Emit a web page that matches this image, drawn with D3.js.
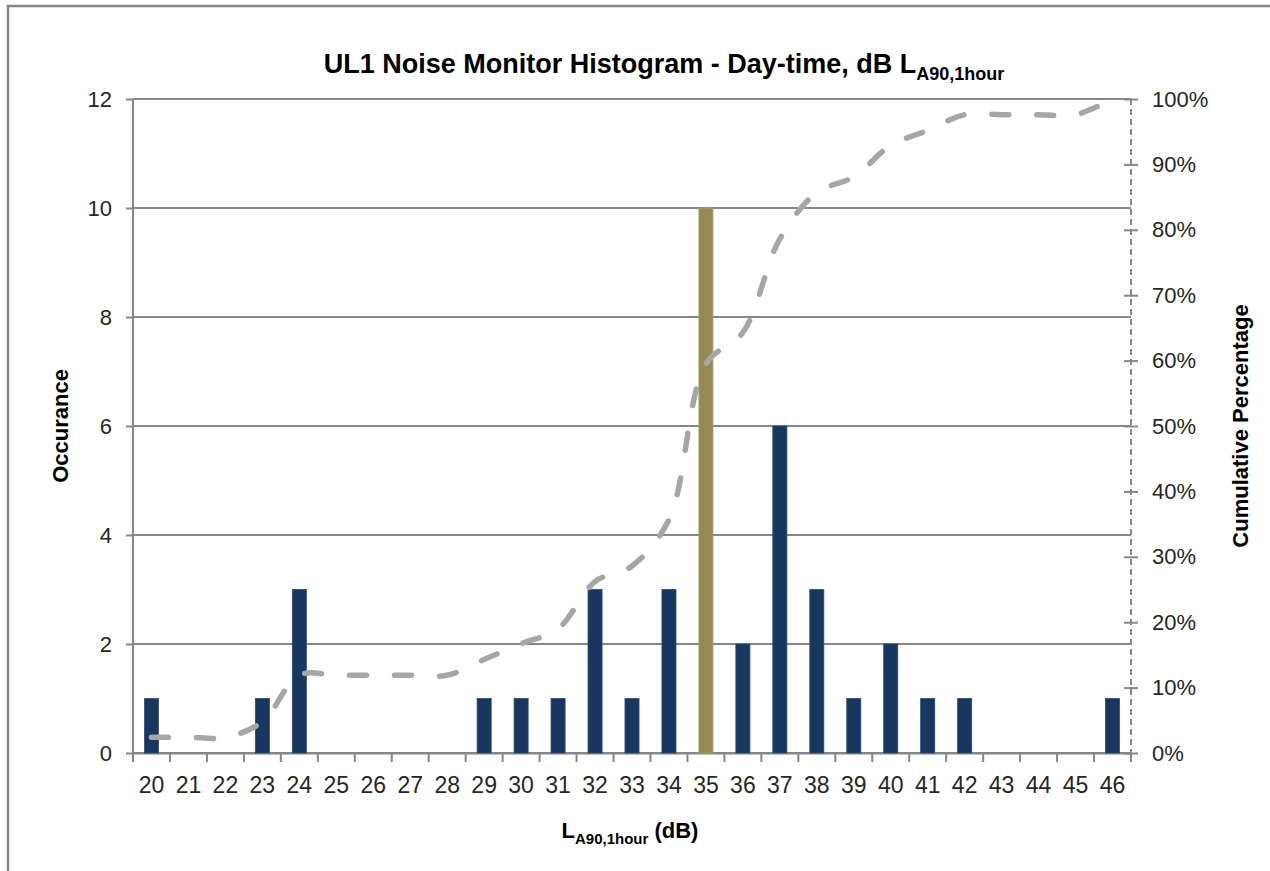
<!DOCTYPE html>
<html>
<head>
<meta charset="utf-8">
<script src="https://cdn.jsdelivr.net/npm/d3@7"></script>
<style>
  html, body { margin: 0; padding: 0; background: #fff; }
  svg { display: block; }
</style>
</head>
<body>
<script>
// ---- Data ----
const categories = ["20","21","22","23","24","25","26","27","28","29","30","31","32","33","34","35","36","37","38","39","40","41","42","43","44","45","46"];
const occurrences = [1,0,0,1,3,0,0,0,0,1,1,1,3,1,3,10,2,6,3,1,2,1,1,0,0,0,1];
const cumulativePct = [2.4,2.4,2.4,4.8,11.9,11.9,11.9,11.9,11.9,14.3,16.7,19.0,26.2,28.6,35.7,59.5,64.3,78.6,85.7,88.1,92.9,95.2,97.6,97.6,97.6,97.6,100];
const highlightCategory = "35";
const leftTicks = [0,2,4,6,8,10,12];
const rightTicks = [0,10,20,30,40,50,60,70,80,90,100];

const W = 1270, H = 871;
const plot = { left: 133, right: 1131, top: 99, bottom: 753 };
const axisColor = "#868686";
const narrow = "'Liberation Sans Narrow', 'Arial Narrow', 'Liberation Sans', sans-serif";
const sans = "'Liberation Sans', Arial, sans-serif";

const svg = d3.select("body").append("svg").attr("width", W).attr("height", H);

// outer chart frame
svg.append("rect").attr("x", 8).attr("y", 6).attr("width", W + 20).attr("height", H + 20)
  .attr("fill", "#fff").attr("stroke", axisColor).attr("stroke-width", 2.5);

const x = d3.scaleBand().domain(categories).range([plot.left, plot.right]).padding(0);
const y = d3.scaleLinear().domain([0, 12]).range([plot.bottom, plot.top]);
const y2 = d3.scaleLinear().domain([0, 100]).range([plot.bottom, plot.top]);

// gridlines + left axis
const gLeft = svg.append("g").attr("transform", `translate(${plot.left},0)`)
  .call(d3.axisLeft(y).tickValues(leftTicks).tickSize(7).tickPadding(14).tickFormat(d3.format("d")));
gLeft.select(".domain").remove();
gLeft.selectAll(".tick line").attr("stroke", axisColor).attr("stroke-width", 2);
gLeft.selectAll(".tick text").attr("font-family", sans).attr("font-size", 22).attr("fill", "#262626");

svg.append("g").selectAll("line.grid").data(leftTicks).join("line")
  .attr("x1", plot.left).attr("x2", plot.right)
  .attr("y1", d => y(d)).attr("y2", d => y(d))
  .attr("stroke", axisColor).attr("stroke-width", 2);

svg.append("line").attr("x1", plot.left).attr("x2", plot.left)
  .attr("y1", plot.top).attr("y2", plot.bottom + 9)
  .attr("stroke", axisColor).attr("stroke-width", 2);

// right axis (dashed)
svg.append("line").attr("x1", plot.right).attr("x2", plot.right)
  .attr("y1", plot.top).attr("y2", plot.bottom)
  .attr("stroke", axisColor).attr("stroke-width", 2).attr("stroke-dasharray", "6,4");
const gRight = svg.append("g").attr("transform", `translate(${plot.right},0)`)
  .call(d3.axisRight(y2).tickValues(rightTicks).tickSize(7).tickPadding(14).tickFormat(d => d + "%"));
gRight.select(".domain").remove();
gRight.selectAll(".tick line").attr("x1", -7).attr("stroke", axisColor).attr("stroke-width", 2);
gRight.selectAll(".tick text").attr("font-family", sans).attr("font-size", 22).attr("fill", "#262626");

// x axis
const gX = svg.append("g").attr("transform", `translate(0,${plot.bottom})`)
  .call(d3.axisBottom(x).tickSize(0).tickPadding(24));
gX.select(".domain").attr("stroke", axisColor).attr("stroke-width", 2);
gX.selectAll(".tick text").attr("font-family", narrow).attr("font-size", 23).attr("fill", "#262626");
const boundaries = categories.map(c => x(c)).concat([plot.right]);
svg.append("g").selectAll("line").data(boundaries).join("line")
  .attr("x1", d => d).attr("x2", d => d)
  .attr("y1", plot.bottom).attr("y2", plot.bottom + 9)
  .attr("stroke", axisColor).attr("stroke-width", 2);

// bars
const barW = x.bandwidth() * 0.38;
svg.append("g").selectAll("rect").data(categories).join("rect")
  .attr("x", c => x(c) + (x.bandwidth() - barW) / 2)
  .attr("width", barW)
  .attr("y", (c, i) => y(occurrences[i]))
  .attr("height", (c, i) => plot.bottom - y(occurrences[i]))
  .attr("fill", c => c === highlightCategory ? "#948A54" : "#17375E")
  .attr("stroke", c => c === highlightCategory ? "#A89E6A" : "#2A4A72")
  .attr("stroke-width", 0.8);

// cumulative line
const line = d3.line()
  .x((d, i) => x(categories[i]) + x.bandwidth() / 2)
  .y(d => y2(d))
  .curve(d3.curveCatmullRom.alpha(0.5));
svg.append("path").datum(cumulativePct)
  .attr("d", line)
  .attr("fill", "none").attr("stroke", "#A6A6A6").attr("stroke-width", 5.5)
  .attr("stroke-linecap", "round").attr("stroke-dasharray", "17,28");

// title
const title = svg.append("text").attr("x", 664).attr("y", 73).attr("text-anchor", "middle")
  .attr("font-family", narrow).attr("font-weight", "bold").attr("font-size", 27).attr("fill", "#000");
title.append("tspan").text("UL1 Noise Monitor Histogram - Day-time, dB L");
title.append("tspan").attr("dy", 7).attr("font-size", 18).text("A90,1hour");

// axis titles
svg.append("text").attr("transform", "translate(68,426) rotate(-90)").attr("text-anchor", "middle")
  .attr("font-family", narrow).attr("font-weight", "bold").attr("font-size", 22).text("Occurance");
svg.append("text").attr("transform", "translate(1248,426) rotate(-90)").attr("text-anchor", "middle")
  .attr("font-family", narrow).attr("font-weight", "bold").attr("font-size", 22).text("Cumulative Percentage");

const xt = svg.append("text").attr("x", 630).attr("y", 838).attr("text-anchor", "middle")
  .attr("font-family", narrow).attr("font-weight", "bold").attr("font-size", 22);
xt.append("tspan").text("L");
xt.append("tspan").attr("dy", 6).attr("font-size", 15).text("A90,1hour");
xt.append("tspan").attr("dy", -6).text(" (dB)");
</script>
</body>
</html>
